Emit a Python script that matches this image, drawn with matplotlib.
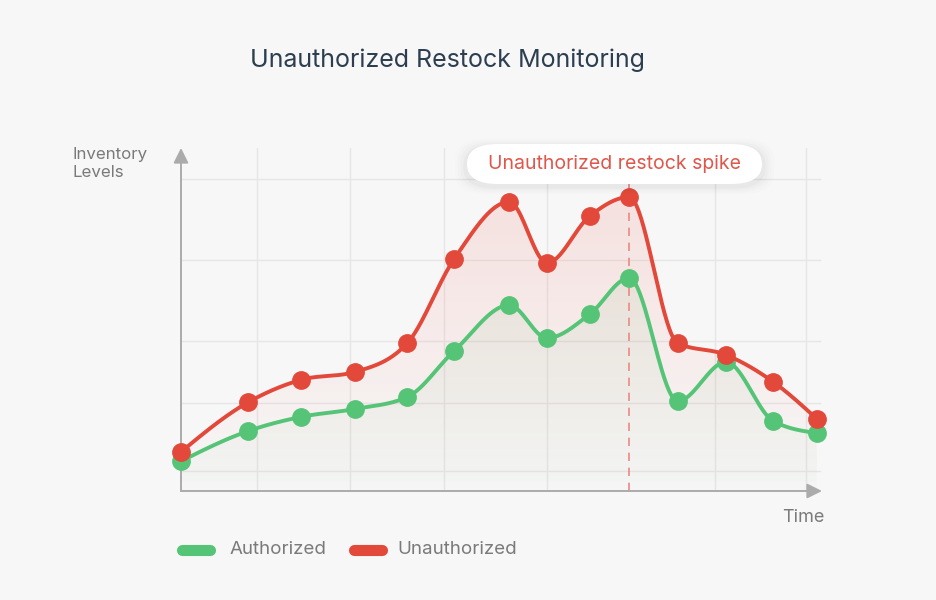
import numpy as np
import matplotlib
matplotlib.use("Agg")
import matplotlib.pyplot as plt
from matplotlib.patches import FancyBboxPatch, Polygon

plt.rcParams['font.family'] = ['Inter', 'DejaVu Sans']

# data (time on a 0-100 scale, inventory on a 0-100 scale)
time_pts = [0, 10.5, 18.7, 27.1, 35.3, 42.6, 51.2, 57.1, 63.8, 69.9, 77.5, 85.0, 92.4, 99.2]
authorized = [8.7, 17.5, 21.6, 23.9, 27.4, 40.8, 54.2, 44.6, 51.6, 62.1, 26.2, 37.6, 20.4, 16.9]
unauthorized = [11.4, 25.9, 32.4, 34.7, 43.1, 67.6, 84.3, 66.5, 80.2, 85.7, 43.1, 39.7, 31.8, 21.0]
spike_time = 69.9
spike_label = "Unauthorized restock spike"
grid_x = [11.9, 26.4, 41.0, 57.1, 83.3, 97.5]
grid_y = [5.8, 25.7, 43.7, 67.3, 91.0]

GREEN = "#55c477"
RED = "#e2493b"
BG = "#f7f7f7"


def monotone(x, y, n=40):
    # monotone cubic (d3 curveMonotoneX style)
    x = np.asarray(x, float)
    y = np.asarray(y, float)
    h = np.diff(x)
    s = np.diff(y) / h
    m = np.zeros_like(y)
    for i in range(1, len(x) - 1):
        p = (s[i - 1] * h[i] + s[i] * h[i - 1]) / (h[i - 1] + h[i])
        m[i] = (np.sign(s[i - 1]) + np.sign(s[i])) * min(abs(s[i - 1]), abs(s[i]), 0.5 * abs(p))
    m[0] = (3 * s[0] - m[1]) / 2
    m[-1] = (3 * s[-1] - m[-2]) / 2
    xs, ys = [], []
    for i in range(len(x) - 1):
        t = np.linspace(0, 1, n, endpoint=(i == len(x) - 2))
        h00 = 2 * t**3 - 3 * t**2 + 1
        h10 = t**3 - 2 * t**2 + t
        h01 = -2 * t**3 + 3 * t**2
        h11 = t**3 - t**2
        xs.append(x[i] + t * h[i])
        ys.append(h00 * y[i] + h10 * h[i] * m[i] + h01 * y[i + 1] + h11 * h[i] * m[i + 1])
    return np.concatenate(xs), np.concatenate(ys)


fig = plt.figure(figsize=(9.37, 6), dpi=100)
fig.patch.set_facecolor(BG)

W, H = 937, 600
x0, x1, ytop, ybot = 181, 822, 148, 491
ax = fig.add_axes([x0 / W, (H - ybot) / H, (x1 - x0) / W, (ybot - ytop) / H])
ax.set_facecolor(BG)
ax.set_xlim(0, 100)
ax.set_ylim(0, 100)
for sp in ax.spines.values():
    sp.set_visible(False)
ax.set_xticks([])
ax.set_yticks([])

# grid
for gx in grid_x:
    ax.plot([gx, gx], [0, 100], color="#e6e6e6", lw=1, zorder=0)
for gy in grid_y:
    ax.plot([0, 99.7], [gy, gy], color="#e6e6e6", lw=1, zorder=0)

# smooth curves
rx, ry = monotone(time_pts, unauthorized)
gx_, gy_ = monotone(time_pts, authorized)


def gradient_fill(xc, yc, rgb, a_top, a_bot):
    verts = np.column_stack([np.r_[xc[0], xc, xc[-1]], np.r_[0, yc, 0]])
    poly = Polygon(verts, closed=True, facecolor="none", edgecolor="none")
    ax.add_patch(poly)
    top = yc.max()
    alpha = np.linspace(a_bot, a_top, 256)[:, None]
    img = np.zeros((256, 1, 4))
    img[..., :3] = rgb
    img[..., 3] = alpha
    im = ax.imshow(img, extent=[xc.min(), xc.max(), 0, top], origin="lower",
                   aspect="auto", zorder=1, interpolation="bilinear")
    im.set_clip_path(poly)


gradient_fill(rx, ry, (0.93, 0.35, 0.30), 0.14, 0.0)
gradient_fill(gx_, gy_, (0.45, 0.70, 0.45), 0.10, 0.02)

# spike marker line
ax.plot([spike_time, spike_time], [0, 89.5], color="#ea8a80", lw=1.2,
        ls=(0, (5, 4)), zorder=2)

ax.plot(gx_, gy_, color=GREEN, lw=2.8, zorder=3, solid_capstyle="round")
ax.plot(time_pts, authorized, "o", color=GREEN, ms=12.5, zorder=4, clip_on=False)
ax.plot(rx, ry, color=RED, lw=2.8, zorder=5, solid_capstyle="round")
ax.plot(time_pts, unauthorized, "o", color=RED, ms=12.5, zorder=6, clip_on=False)

# axes arrows
ax.annotate("", xy=(0, 1.0), xytext=(0, 0), xycoords="axes fraction",
            arrowprops=dict(arrowstyle="-|>,head_length=0.9,head_width=0.45",
                            color="#ababab", lw=1.4, shrinkA=0, shrinkB=0), zorder=2)
ax.annotate("", xy=(1.0, 0), xytext=(0, 0), xycoords="axes fraction",
            arrowprops=dict(arrowstyle="-|>,head_length=0.9,head_width=0.45",
                            color="#ababab", lw=1.4, shrinkA=0, shrinkB=0), zorder=2)

# annotation pill with soft shadow
bx0, by0, bw, bh = 467 / W, (H - 184) / H, 295 / W, 40 / H
for k, a in enumerate([0.022, 0.017, 0.012, 0.008]):
    sh = FancyBboxPatch((bx0, by0 - 0.004), bw, bh,
                        boxstyle=f"round,pad={0.004 + k * 0.003},rounding_size=0.035",
                        transform=fig.transFigure, facecolor="black", edgecolor="none",
                        alpha=a, zorder=7)
    fig.add_artist(sh)
box = FancyBboxPatch((bx0, by0), bw, bh, boxstyle="round,pad=0,rounding_size=0.033",
                     transform=fig.transFigure, facecolor="white", edgecolor="none", zorder=8)
fig.add_artist(box)
fig.text(615 / W, 1 - 164 / H, spike_label, ha="center", va="center",
         fontsize=14, color="#e0564a", zorder=9)

# text
fig.text(447 / W, 1 - 60 / H, "Unauthorized Restock Monitoring", ha="center", va="center",
         fontsize=18, color="#2c3e50")
fig.text(73 / W, 1 - 163 / H, "Inventory\nLevels", ha="left", va="center",
         fontsize=12.2, color="#7a7a7a", linespacing=1.25)
fig.text(803 / W, 1 - 517 / H, "Time", ha="center", va="center", fontsize=13, color="#7a7a7a")

# legend
for lx, col, lab in [(196, GREEN, "Authorized"), (368, RED, "Unauthorized")]:
    fig.add_artist(plt.Line2D([(lx - 14) / W, (lx + 14) / W], [1 - 550 / H] * 2,
                              color=col, lw=8, solid_capstyle="round",
                              transform=fig.transFigure))
fig.text(230 / W, 1 - 550 / H, "Authorized", ha="left", va="center", fontsize=13.5, color="#7a7a7a")
fig.text(397 / W, 1 - 550 / H, "Unauthorized", ha="left", va="center", fontsize=13.5, color="#7a7a7a")

fig.savefig("out.png", dpi=100, facecolor=BG)
